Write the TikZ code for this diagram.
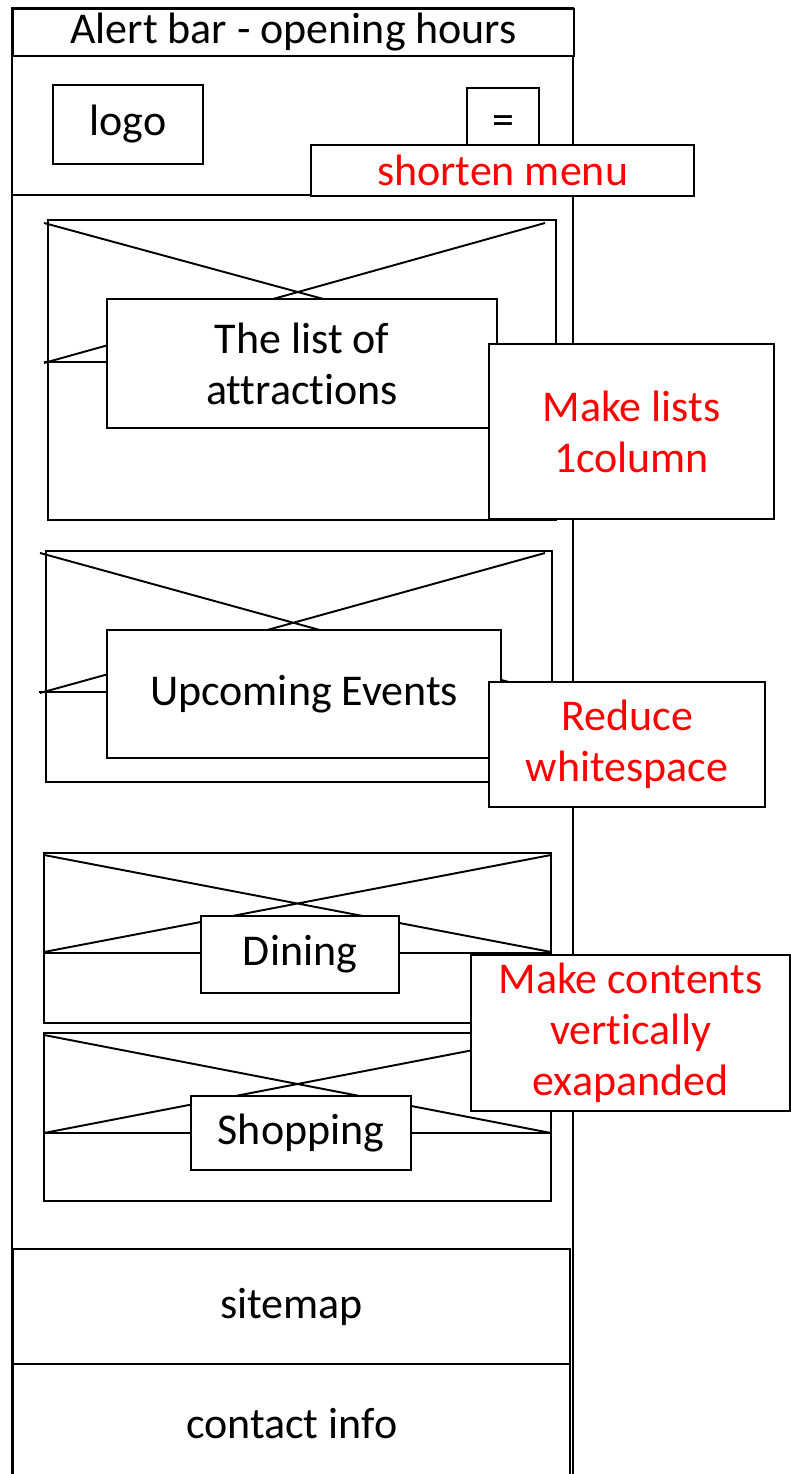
\documentclass[tikz,border=0pt]{standalone}
\usepackage{fontspec}
\setmainfont{Carlito}[Ligatures=NoCommon]
\definecolor{notered}{RGB}{255,0,0}

\begin{document}
\begin{tikzpicture}[x=0.01cm,y=-0.01cm,line width=0.55pt,
        txtbox/.style={draw,fill=white,align=center,inner sep=0pt,anchor=north west,
          font=\fontsize{12.5}{14.5}\selectfont},
        note/.style={txtbox,text=notered},
      ]
      \useasboundingbox (0,0) rectangle (790,1474);
      \draw (12,1474) -- (12,8) -- (573,8) -- (573,1474);
      \node[txtbox,minimum width=5.61cm,minimum height=0.47cm] (alert) at (12,8) {Alert bar - opening hours};
      \draw (12,195) -- (573,195);
      \node[txtbox,minimum width=1.5cm,minimum height=0.79cm] (logo) at (52,84) {logo};
      \node[txtbox,minimum width=0.72cm,minimum height=0.75cm] (menu) at (466,87) {=};
      \node[note,minimum width=3.83cm,minimum height=0.51cm] (shorten) at (310,144) {shorten menu};
%
      \draw (48,220) rectangle (556,520);
      \draw (44,362) -- (556,362) (44,223) -- (555,362) (545,223) -- (44,363);
      \node[txtbox,minimum width=3.9cm,minimum height=1.29cm] (attractions) at (106,298) {The list of\\attractions};
      \node[note,minimum width=2.85cm,minimum height=1.75cm] (onecol) at (488,343) {Make lists\\1column};
%
      \draw (46,551) rectangle (552,782);
      \draw (39,692) -- (552,692) (40,553) -- (545,692) (545,553) -- (40,693);
      \node[txtbox,minimum width=3.94cm,minimum height=1.28cm] (events) at (106,629) {Upcoming Events};
      \node[note,minimum width=2.76cm,minimum height=1.25cm] (whitespace) at (488,681) {Reduce\\whitespace};
%
      \draw (44,853) rectangle (551,1023);
      \draw (44,953) -- (551,953) (44,855) -- (551,952) (551,855) -- (44,952);
      \node[txtbox,minimum width=1.98cm,minimum height=0.77cm] (dining) at (200,915) {Dining};
%
      \draw (44,1033) rectangle (551,1201);
      \draw (44,1133) -- (551,1133) (44,1035) -- (551,1133) (551,1035) -- (44,1133);
      \node[txtbox,minimum width=2.2cm,minimum height=0.74cm] (shopping) at (190,1095) {Shopping};
%
      \node[note,minimum width=3.19cm,minimum height=1.56cm] (expand) at (470,954) {Make contents\\vertically\\exapanded};
%
      \node[txtbox,minimum width=5.57cm,minimum height=1.15cm] (sitemap) at (12,1248) {sitemap};
      \node[txtbox,minimum width=5.57cm,minimum height=1.2cm] (contact) at (12,1363) {contact info};
    \end{tikzpicture}
\end{document}
